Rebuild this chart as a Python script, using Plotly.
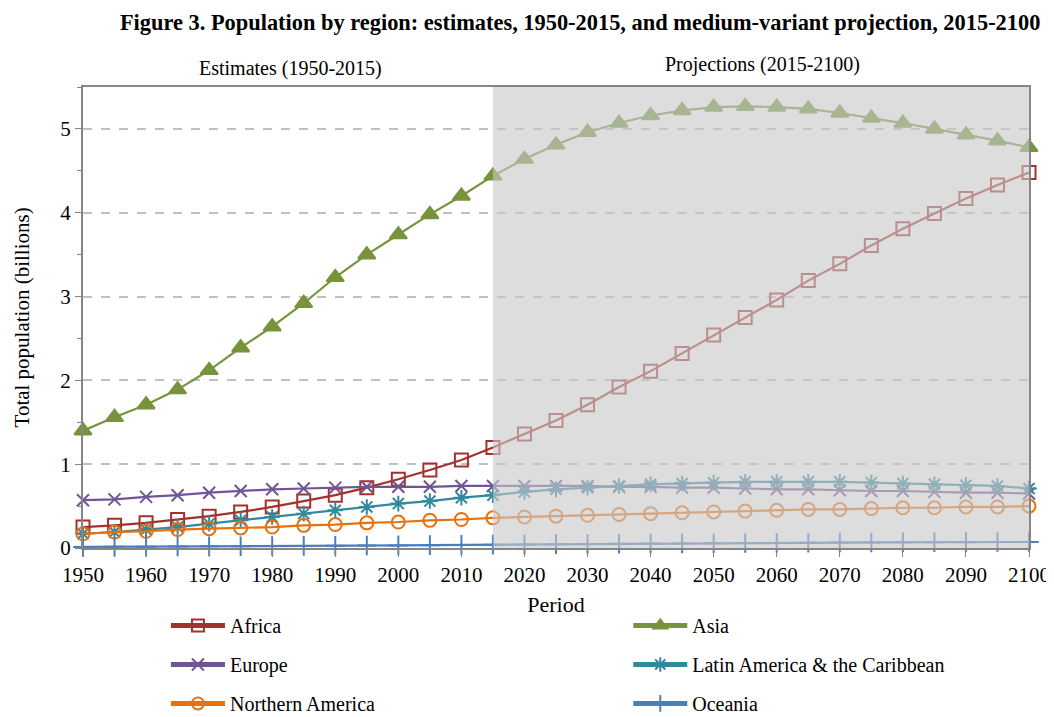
import plotly.graph_objects as go

years = list(range(1950, 2101, 5))

africa = [0.25, 0.27, 0.30, 0.34, 0.38, 0.43, 0.49, 0.56, 0.63, 0.72, 0.82, 0.93, 1.05, 1.20,
          1.36, 1.52, 1.71, 1.92, 2.11, 2.32, 2.54, 2.75, 2.96, 3.19, 3.39, 3.61, 3.81, 3.99, 4.17, 4.33, 4.48]
asia = [1.40, 1.56, 1.71, 1.89, 2.12, 2.39, 2.64, 2.92, 3.23, 3.50, 3.74, 3.98, 4.20, 4.44,
        4.64, 4.81, 4.96, 5.07, 5.16, 5.22, 5.26, 5.27, 5.26, 5.24, 5.19, 5.13, 5.07, 5.00, 4.93, 4.86, 4.78]
europe = [0.57, 0.58, 0.61, 0.63, 0.66, 0.68, 0.70, 0.71, 0.72, 0.73, 0.73, 0.73, 0.74, 0.74,
          0.74, 0.74, 0.74, 0.73, 0.73, 0.72, 0.72, 0.71, 0.70, 0.70, 0.69, 0.68, 0.68, 0.67, 0.66, 0.66, 0.65]
latin = [0.17, 0.19, 0.22, 0.25, 0.29, 0.33, 0.37, 0.41, 0.45, 0.49, 0.53, 0.56, 0.60, 0.63,
         0.67, 0.70, 0.72, 0.74, 0.76, 0.77, 0.78, 0.79, 0.79, 0.79, 0.79, 0.78, 0.77, 0.76, 0.75, 0.74, 0.71]
n_america = [0.17, 0.19, 0.20, 0.22, 0.23, 0.24, 0.25, 0.27, 0.28, 0.30, 0.31, 0.33, 0.34, 0.36,
             0.37, 0.38, 0.39, 0.40, 0.41, 0.42, 0.43, 0.44, 0.45, 0.46, 0.46, 0.47, 0.48, 0.48, 0.49, 0.49, 0.50]
oceania = [0.013, 0.014, 0.016, 0.018, 0.020, 0.021, 0.023, 0.025, 0.027, 0.029, 0.031, 0.034, 0.037, 0.040,
           0.043, 0.046, 0.048, 0.051, 0.053, 0.055, 0.057, 0.059, 0.061, 0.063, 0.065, 0.066, 0.068, 0.069, 0.070, 0.071, 0.072]

x_ticks = list(range(1950, 2101, 10))

series = [
    ("Africa", africa, "#A3322E", "square-open", 13, "legend"),
    ("Asia", asia, "#77933C", "triangle-up", 15, "legend2"),
    ("Europe", europe, "#6F5596", "x-thin-open", 12, "legend"),
    ("Latin America & the Caribbean", latin, "#31899E", "asterisk-open", 13, "legend2"),
    ("Northern America", n_america, "#E8700F", "circle-open", 13, "legend"),
    ("Oceania", oceania, "#4A7EC4", "cross-thin-open", 14, "legend2"),
]

FONT = "Liberation Serif"
fig = go.Figure()
for name, vals, col, sym, sz, lg in series:
    fig.add_trace(go.Scatter(
        x=years, y=vals, name=name, mode="lines+markers",
        line=dict(color=col, width=2.2),
        marker=dict(symbol=sym, size=sz, color=col, line=dict(color=col, width=2)),
        cliponaxis=False, legend=lg, legendgroup=name,
    ))

# shaded projection region (semi-transparent overlay)
fig.add_shape(type="rect", xref="x", yref="y", x0=2015, x1=2100, y0=0, y1=5.5,
              fillcolor="rgba(200,200,200,0.62)", line=dict(width=0), layer="above")

legend_common = dict(xref="container", yref="container", xanchor="left", yanchor="top",
                     orientation="v", tracegroupgap=10, itemwidth=54, itemsizing="constant",
                     font=dict(family=FONT, size=20), bgcolor="rgba(0,0,0,0)")

# page body adds an 8px offset; figure sized to fill the remaining window
fig.update_layout(
    width=1046, height=709,
    margin=dict(l=75, r=25, t=79, b=169, autoexpand=False),
    paper_bgcolor="white", plot_bgcolor="white",
    font=dict(family=FONT, size=20, color="black"),
    title=dict(text="<b>Figure 3. Population by region: estimates, 1950-2015, and medium-variant projection, 2015-2100</b>",
               x=0.547, xanchor="center", y=0.980, yanchor="middle", yref="container",
               font=dict(family=FONT, size=22.4, color="black")),
    showlegend=True,
    legend=dict(x=0.151, y=0.1566, **legend_common),
    legend2=dict(x=0.593, y=0.1566, **legend_common),
    annotations=[
        dict(text="Estimates (1950-2015)", xref="paper", yref="paper", x=0.219, y=1, yshift=19,
             xanchor="center", yanchor="middle", showarrow=False, font=dict(family=FONT, size=20)),
        dict(text="Projections (2015-2100)", xref="paper", yref="paper", x=0.718, y=1, yshift=23,
             xanchor="center", yanchor="middle", showarrow=False, font=dict(family=FONT, size=20)),
        dict(text="Total population (billions)", xref="paper", yref="paper", x=-0.0645, y=0.5,
             xanchor="center", yanchor="middle", textangle=-90, showarrow=False,
             font=dict(family=FONT, size=21)),
    ],
)

fig.update_xaxes(range=[1950, 2100], tickmode="array", tickvals=x_ticks, ticktext=[str(v) for v in x_ticks],
                 ticks="outside", ticklen=7, tickcolor="#868686", showline=True, linecolor="#868686",
                 linewidth=2, mirror=True, showgrid=False, zeroline=False, automargin=True,
                 tickfont=dict(family=FONT, size=21),
                 title=dict(text="Period", font=dict(family=FONT, size=22), standoff=10))
fig.update_yaxes(range=[0, 5.5], dtick=1, tick0=0, ticks="outside", ticklen=6, tickcolor="#868686",
                 showline=True, linecolor="#868686", linewidth=2, mirror=True, automargin=True,
                 showgrid=True, gridcolor="#C0C0C0", gridwidth=2, griddash="dash", zeroline=False,
                 minor=dict(dtick=0.5, ticks="outside", ticklen=4, tickcolor="#868686", showgrid=False),
                 tickfont=dict(family=FONT, size=21))

fig.write_html("out.html")
